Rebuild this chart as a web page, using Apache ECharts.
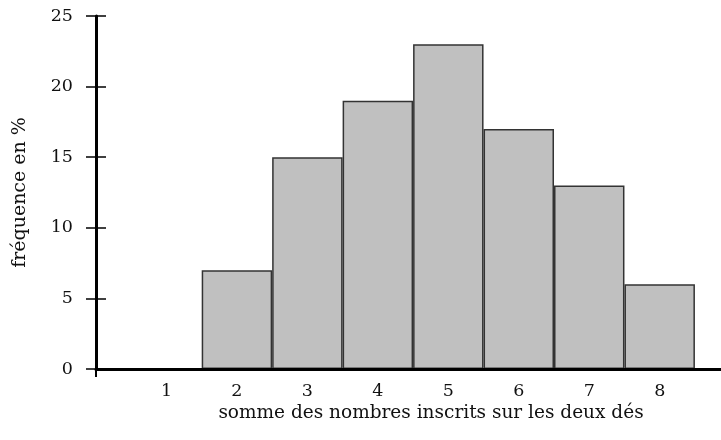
<!DOCTYPE html>
<html><head><meta charset="utf-8">
<script src="https://cdn.jsdelivr.net/npm/echarts@6/dist/echarts.min.js"></script>
<style>html,body{margin:0;padding:0;background:#fff}#c{width:721px;height:440px}</style>
</head><body><div id="c"></div>
<script>
const sums = [1, 2, 3, 4, 5, 6, 7, 8];
const freq = [0, 7, 15, 19, 23, 17, 13, 6];
const yTicks = [0, 5, 10, 15, 20, 25];
const xTitle = 'somme des nombres inscrits sur les deux dés';
const yTitle = 'fréquence en %';

const font = 'DejaVu Serif';
const chart = echarts.init(document.getElementById('c'), null, {renderer: 'canvas'});
chart.setOption({
  animation: false,
  backgroundColor: '#fff',
  title: {
    text: xTitle, left: 426, top: 399, textAlign: 'center',
    textStyle: {fontFamily: font, fontSize: 18.5, fontWeight: 'normal', color: '#111'}
  },
  grid: {left: 96, right: 0, top: 16, bottom: 71},
  xAxis: {
    type: 'value', min: 0, max: 8.87, interval: 1, z: 5,
    axisLine: {show: true, lineStyle: {color: '#000', width: 3}},
    axisTick: {show: true, customValues: [0], length: 8, lineStyle: {color: '#000', width: 2}},
    axisLabel: {customValues: sums, fontFamily: font, fontSize: 17.5, color: '#111', margin: 13},
    splitLine: {show: false}
  },
  yAxis: [{
    type: 'value', min: 0, max: 25, interval: 5, z: 5,
    name: yTitle, nameLocation: 'middle', nameGap: 66,
    nameTextStyle: {fontFamily: font, fontSize: 19, color: '#111'},
    axisLine: {show: true, lineStyle: {color: '#000', width: 3}},
    axisTick: {show: true, length: 10, lineStyle: {color: '#000', width: 1.5}},
    axisLabel: {fontFamily: font, fontSize: 17.5, color: '#111', margin: 23,
      customValues: yTicks},
    splitLine: {show: false}
  }, {
    type: 'value', min: 0, max: 25, interval: 5, position: 'left', z: 5,
    axisLine: {show: false},
    axisTick: {show: true, inside: true, length: 10, lineStyle: {color: '#000', width: 1.5}},
    axisLabel: {show: false},
    splitLine: {show: false}
  }],
  series: [{
    type: 'bar',
    data: sums.map((s, i) => [s, freq[i]]),
    barWidth: '100%',
    itemStyle: {color: '#c0c0c0', borderColor: '#333', borderWidth: 1.5},
    silent: true
  }]
});
</script></body></html>
